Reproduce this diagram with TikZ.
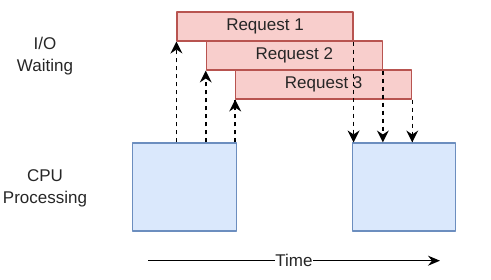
\documentclass[tikz,border=0pt]{standalone}
\usepackage{fontspec}
\setmainfont{Liberation Sans}
\usetikzlibrary{arrows.meta, decorations.markings}
\definecolor{reqfill}{HTML}{F8CECC}
\definecolor{reqline}{HTML}{B85450}
\definecolor{cpufill}{HTML}{DAE8FC}
\definecolor{cpuline}{HTML}{6C8EBF}
\tikzset{
	reqbox/.style={draw=reqline, fill=reqfill, line width=1.1pt, minimum width=176pt, minimum height=29pt, inner sep=0pt, text=black!85},
	cpubox/.style={draw=cpuline, fill=cpufill, line width=1.1pt, minimum width=103.5pt, minimum height=88pt, inner sep=0pt},
	lbl/.style={align=center, text=black!85},
	io/.style={dash pattern=on 4pt off 4pt, line width=1.5pt,
		postaction={decorate, decoration={markings, mark=at position 1 with {\fill[solid] (0pt,0pt) -- (-12pt,6pt) -- (-8pt,0pt) -- (-12pt,-6pt) -- cycle;}}}},
}
\begin{document}
\begin{tikzpicture}[x=1pt, y=-1pt, font=\fontsize{17}{21.7}\selectfont, line join=round]
		\useasboundingbox (0,0) rectangle (491,280);
		\node[cpubox] (cpu1) at (184.5,187) {};
		\node[cpubox] (cpu2) at (403.8,187) {};
		\node[reqbox] (req1) at (265,26.5) {Request 1};
		\node[reqbox] (req2) at (294.3,55.5) {Request 2};
		\node[reqbox] (req3) at (323.7,84.5) {Request 3};
		\node[lbl] (io) at (45,56) {I/O\\Waiting};
		\node[lbl] (cpu) at (45,188) {CPU\\Processing};
		\foreach \r in {req1,req2,req3}
		\draw[io] (\r.south west |- cpu1.north) -- (\r.south west);
		\foreach \r in {req1,req2,req3}
		\draw[io] (\r.south east) -- (\r.south east |- cpu2.north);
		\coordinate (t0) at (148,260.7);
		\coordinate (t1) at (440,260.7);
		\draw[-{Stealth[length=12pt, width=10pt, inset=4pt]}, line width=1.3pt] (t0) -- (t1) node[pos=0.5, fill=white, inner sep=0.5pt, text=black!85] (time) {Time};
\end{tikzpicture}
\end{document}
